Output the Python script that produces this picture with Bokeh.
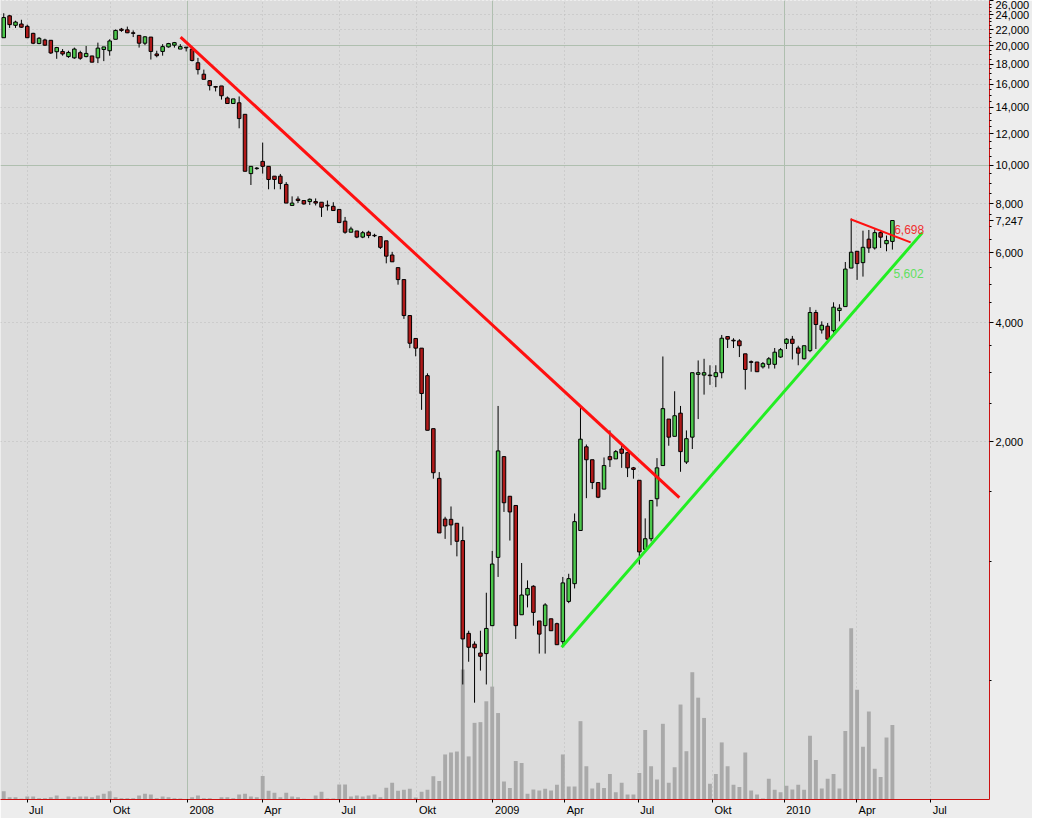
import numpy as np
from bokeh.plotting import figure
from bokeh.models import (ColumnDataSource, Range1d, LinearScale, FixedTicker,
                          NumeralTickFormatter, Grid)
from bokeh.embed import file_html
from bokeh.resources import INLINE
from bokeh.core.properties import value

# ---- weekly candles (index 0 .. 151) ----
opens = [20980, 23830, 22550, 22720, 22420, 21520, 20280, 20710, 20670, 19340,
         19370, 18800, 18660, 19230, 18800, 18870, 18660, 19590, 19450, 20790,
         22050, 21960, 21590, 21270, 20320, 21060, 19090, 19370, 19890, 20090,
         19640, 19860, 19640, 18140, 16970, 16340, 15790, 15850, 14780, 14310,
         14370, 13440, 9520, 9800, 10220, 9930, 9380, 9380, 8940, 7910,
         8210, 8140, 8090, 8090, 8060, 7920, 7870, 7730, 7220, 6770,
         6820, 6580, 6770, 6650, 6600, 6440, 5930, 5510, 5140, 4170,
         3650, 3450, 2940, 2160, 1618, 1277, 1275, 1246, 1127, 657,
         617, 586, 584, 687, 1022, 1836, 1458, 1382, 732, 821,
         864, 706, 687, 715, 695, 626, 791, 877, 1195, 1944,
         1803, 1579, 1520, 1836, 1812, 1919, 1879, 1720, 1600, 1071,
         1139, 1437, 1743, 2284, 2066, 2364, 1779, 2056, 2962, 2950,
         2950, 2923, 2991, 3691, 3613, 3599, 3338, 3189, 3183, 3094,
         3140, 3140, 3276, 3547, 3635, 3453, 3243, 3400, 4245, 3835,
         3920, 3819, 4294, 4393, 5496, 6060, 5672, 6503, 6177, 6754,
         6332, 6417]
highs = [24190, 23960, 23160, 23290, 22640, 21590, 21060, 20860, 20670, 19890,
         19640, 19450, 19810, 19450, 20000, 18870, 20390, 19890, 20790, 22010,
         22210, 22380, 21890, 21270, 21180, 21060, 19450, 20210, 20360, 20470,
         20210, 19860, 19810, 18660, 17430, 16400, 15850, 15850, 14910, 14700,
         14910, 13440, 9930, 9890, 11400, 9930, 9380, 9500, 9060, 8340,
         8340, 8160, 8240, 8240, 8060, 8140, 8060, 7730, 7400, 6990,
         6820, 6820, 6830, 6710, 6600, 6440, 6040, 5510, 5140, 4170,
         3650, 3450, 2980, 2160, 1678, 1294, 1374, 1246, 1222, 667,
         627, 667, 832, 1061, 2465, 1836, 1458, 1382, 989, 894,
         869, 706, 783, 715, 699, 912, 929, 1319, 2441, 1970,
         1803, 1579, 1827, 2138, 1908, 1964, 1879, 1729, 1600, 1282,
         1423, 1820, 3287, 2284, 2685, 2465, 2138, 2991, 3212, 3243,
         3123, 3123, 3725, 3691, 3655, 3635, 3338, 3212, 3183, 3183,
         3276, 3453, 3453, 3655, 3704, 3499, 3499, 4378, 4310, 4032,
         3995, 4504, 4453, 5694, 7329, 6060, 6832, 6859, 6885, 6859,
         6641, 7247]
lows = [20980, 22210, 22210, 22210, 20980, 20210, 20210, 20000, 19090, 18560,
        18900, 18660, 18560, 18450, 18720, 18200, 18100, 18310, 18900, 20790,
        21710, 21550, 21060, 19810, 20090, 18480, 18720, 18900, 19810, 19810,
        19640, 19370, 18280, 16940, 16470, 15440, 15350, 14640, 14310, 14310,
        12390, 9650, 8910, 9735, 9520, 8690, 8690, 8690, 8020, 7910,
        8020, 7950, 7930, 7910, 7400, 7680, 7680, 7160, 6710, 6770,
        6540, 6540, 6540, 6580, 6140, 5650, 5700, 4990, 4090, 3450,
        3290, 2410, 2140, 1615, 1178, 1138, 1097, 1028, 488, 557,
        439, 529, 488, 687, 912, 1331, 1127, 636, 732, 764,
        687, 584, 584, 667, 615, 612, 783, 853, 1195, 1442,
        1520, 1442, 1520, 1729, 1812, 1720, 1630, 1615, 980, 1071,
        1122, 1374, 1743, 1956, 2066, 1681, 1759, 1919, 2284, 2633,
        2787, 2750, 2895, 3453, 3453, 3276, 2712, 3008, 3008, 3064,
        3064, 3064, 3262, 3433, 3230, 3123, 3230, 3370, 3433, 3755,
        3599, 3776, 4032, 4393, 5496, 5132, 5230, 6003, 6120, 6177,
        6060, 6120]
closes = [23590, 22640, 22980, 22300, 20980, 20320, 20910, 20090, 19200, 19810,
          19090, 19260, 19640, 18620, 19150, 18200, 19750, 19890, 20590, 21890,
          21890, 21590, 21520, 20320, 21090, 19370, 18900, 19920, 20280, 20390,
          19920, 19780, 18380, 17430, 16470, 15880, 15740, 14970, 14310, 14700,
          13110, 9650, 9930, 9830, 9930, 9200, 9200, 8990, 8020, 8020,
          8140, 7980, 8200, 8020, 7830, 7890, 7680, 7160, 6770, 6900,
          6580, 6750, 6640, 6630, 6200, 5890, 5700, 5140, 4170, 3550,
          3450, 2650, 2140, 1672, 1178, 1227, 1234, 1122, 636, 606,
          604, 575, 676, 983, 1898, 1404, 1331, 687, 821, 853,
          742, 654, 775, 667, 615, 881, 903, 1258, 2032, 1803,
          1579, 1450, 1743, 1803, 1890, 1872, 1720, 1704, 1055, 1139,
          1423, 1720, 2427, 2056, 2329, 1890, 2038, 2991, 2991, 2991,
          2940, 2991, 3655, 3635, 3599, 3499, 3047, 3176, 3008, 3153,
          3243, 3370, 3419, 3635, 3547, 3351, 3499, 4245, 3958, 3942,
          3635, 4378, 4354, 5464, 6027, 5641, 6202, 6177, 6754, 6578,
          6454, 7247]
volumes = [8.3, 2.3, 2.3, 0.7, 3, 3, 1.3, 1.3, 2.3, 4,
           0.7, 3, 2.3, 3, 3, 2.3, 4, 6, 8.3, 2.3,
           1.3, 1.3, 1.3, 4, 6, 5, 1.3, 3, 2.3, 1.3,
           1, 0.5, 2.3, 4, 1.3, 1.3, 0.3, 2.3, 2.3, 1.3,
           5, 6, 3, 2.3, 24, 9, 7, 2.3, 7, 3,
           2.3, 0.7, 0.3, 4, 8, 1, 1, 15.3, 15.3, 3,
           4, 3, 4, 5, 2.3, 12, 17, 9, 10, 11,
           2, 8, 10, 23.7, 19, 46, 48, 49, 132.7, 44,
           78.3, 79, 100.3, 115.3, 88.3, 18.3, 11.7, 39.3, 37.3, 6,
           10.3, 9.3, 11, 9.3, 15, 46, 13.3, 13.3, 80, 34,
           11.3, 17, 11.7, 26, 7.3, 17, 5, 5, 27, 71,
           34, 20.3, 77.3, 17, 33, 97, 49.3, 130, 104, 83.3,
           16, 26, 58.3, 34, 15, 12.7, 48, 9.3, 5, 1,
           21.3, 10, 7.3, 14, 10.3, 15, 10, 65, 40.3, 11.3,
           21.3, 26, 11.3, 70, 175, 112, 54, 90, 31.3, 23,
           63.3, 76]

# ---- time axis: bar index of the month starts ----
x_tick_pos = [3.96, 18.2, 31.2, 43.9, 57.05, 70.2, 83.1, 95.3, 107.8, 120.4, 132.6, 144.9, 157.5]
x_tick_labels = ["Jul", "Okt", "2008", "Apr", "Jul", "Okt", "2009", "Apr", "Jul", "Okt", "2010", "Apr", "Jul"]
year_ticks = [31.2, 83.1, 132.6]

last_price = 7247
y_major = list(range(2000, 26001, 2000))
y_minor = [v for v in range(500, 26001, 500) if v % 2000 != 0]
y_solid_grid = [10000, 20000]

# ---- trend lines (bar index, price) ----
red_trend_x, red_trend_y = [30.05, 114.8], [21060, 1447]
green_trend_x, green_trend_y = [94.8, 156.1], [606, 6754]
red_small_x, red_small_y = [143.9, 154.1], [7303, 6383]
red_label, green_label = "6,698", "5,602"

FONT = "Liberation Sans"
FS = 11  # px
X_END = 167.5

idx = np.arange(len(opens))
o = np.array(opens, float); c = np.array(closes, float)
up = c >= o
src = ColumnDataSource(dict(
    x=idx, high=highs, low=lows,
    top=np.maximum(o, c), bottom=np.minimum(o, c),
    color=np.where(up, "#4CC84C", "#B01A1A"),
    vol=volumes,
))

W, H = 1032, 818
p = figure(width=W, height=H, output_backend="svg", toolbar_location=None,
           x_range=Range1d(-0.55, X_END), y_range=Range1d(250, 26050),
           y_axis_type="log", y_axis_location="right", min_border=0)
p.background_fill_color = "#DCDCDC"
p.border_fill_color = "#EDEDED"
p.outline_line_color = None

p.extra_y_ranges = {"vol": Range1d(0, 816)}
p.extra_y_scales = {"vol": LinearScale()}

# grids
p.xgrid.grid_line_color = None
p.ygrid.grid_line_color = None
q_ticks = [t for t in x_tick_pos if t not in year_ticks]
p.add_layout(Grid(dimension=0, ticker=FixedTicker(ticks=q_ticks),
                  grid_line_color="#BDBDBD", grid_line_dash="1 3"))
p.add_layout(Grid(dimension=0, ticker=FixedTicker(ticks=year_ticks),
                  grid_line_color="#AFBFAF"))
p.add_layout(Grid(dimension=1, ticker=FixedTicker(ticks=[v for v in y_major if v not in y_solid_grid]),
                  grid_line_color="#BDBDBD", grid_line_dash="1 3"))
p.add_layout(Grid(dimension=1, ticker=FixedTicker(ticks=y_solid_grid),
                  grid_line_color="#AFBFAF"))

# volume
p.vbar(x="x", width=0.66, top="vol", bottom=0, source=src, y_range_name="vol",
       fill_color="#A9A9A9", line_color=None)

# candles
p.segment(x0="x", y0="low", x1="x", y1="high", source=src, line_color="black", line_width=1)
p.vbar(x="x", width=0.6, top="top", bottom="bottom", source=src,
       fill_color="color", line_color="black", line_width=1)

# trend lines
p.line(red_trend_x, red_trend_y, line_color="#FF1010", line_width=3)
p.line(green_trend_x, green_trend_y, line_color="#22EE22", line_width=3)
p.line(red_small_x, red_small_y, line_color="#FF1010", line_width=2)

p.text(x=[151.3], y=[6883], text=[red_label], text_color="#F03030",
       text_font=value(FONT), text_font_size="12px", text_baseline="middle")
p.text(x=[151.2], y=[5330], text=[green_label], text_color="#60E060",
       text_font=value(FONT), text_font_size="12px", text_baseline="middle")

# price axis (right); the last price is marked on the axis as well
ya = p.yaxis[0]
ya.ticker = FixedTicker(ticks=sorted(y_major + [last_price]), minor_ticks=y_minor)
ya.formatter = NumeralTickFormatter(format="0,0")
ya.axis_line_color = "#CC1111"
ya.major_tick_in = 0; ya.major_tick_out = 4
ya.minor_tick_in = 0; ya.minor_tick_out = 2
ya.major_tick_line_color = "black"; ya.minor_tick_line_color = "black"
ya.major_label_text_font = FONT
ya.major_label_text_font_size = f"{FS}px"
ya.major_label_text_color = "black"
ya.major_label_standoff = 2
ya.axis_label_standoff = 0

# time axis: month-start tick marks (drawn as minor ticks) with labels that
# start just right of each tick mark
def text_width(s):
    em = {"J": .5, "u": .556, "l": .222, "O": .778, "k": .5, "t": .278,
          "A": .667, "p": .556, "r": .333}
    return sum(em.get(ch, .556) for ch in s) * FS

frame_w_est = 980.0
px_per_bar = frame_w_est / (X_END + 0.55)
label_pos = [round(t + (2 + text_width(l) / 2) / px_per_bar, 3) for t, l in zip(x_tick_pos, x_tick_labels)]

xa = p.xaxis[0]
xa.ticker = FixedTicker(ticks=label_pos, minor_ticks=x_tick_pos)
xa.major_label_overrides = {t: l for t, l in zip(label_pos, x_tick_labels)}
xa.axis_line_color = "#CC1111"
xa.major_tick_line_color = None
xa.major_tick_in = 0; xa.major_tick_out = 3
xa.minor_tick_line_color = "black"
xa.minor_tick_in = 0; xa.minor_tick_out = 3
xa.major_label_text_font = FONT
xa.major_label_text_font_size = f"{FS}px"
xa.major_label_text_color = "black"
xa.major_label_standoff = 1
xa.axis_label_standoff = 0

open("out.html", "w").write(file_html(p, INLINE))
